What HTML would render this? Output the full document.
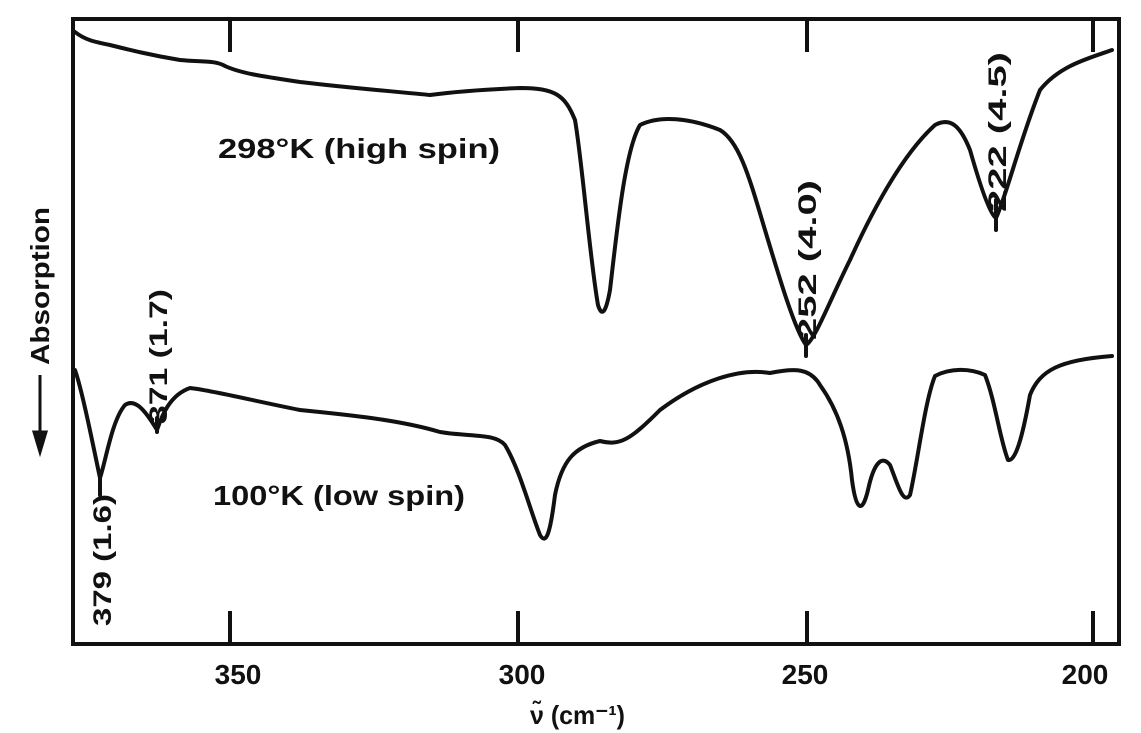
<!DOCTYPE html>
<html><head><style>
html,body{margin:0;padding:0;background:#fff;}
svg{display:block;}
text{font-family:"Liberation Sans",sans-serif;font-weight:bold;fill:#111;}
</style></head><body>
<svg width="1141" height="733" viewBox="0 0 1141 733">
<rect x="73" y="19" width="1046" height="625" fill="none" stroke="#111" stroke-width="4"/>
<g stroke="#111" stroke-width="4">
<line x1="230" y1="19" x2="230" y2="52"/><line x1="518" y1="19" x2="518" y2="52"/><line x1="807" y1="19" x2="807" y2="52"/><line x1="1093" y1="19" x2="1093" y2="52"/>
<line x1="230" y1="644" x2="230" y2="611"/><line x1="518" y1="644" x2="518" y2="611"/><line x1="807" y1="644" x2="807" y2="611"/><line x1="1093" y1="644" x2="1093" y2="611"/>
</g>
<g font-size="28" text-anchor="middle">
<text x="238" y="684">350</text><text x="522" y="684">300</text><text x="805" y="684">250</text><text x="1085" y="684">200</text>
</g>
<text x="530" y="724" font-size="26" textLength="95" lengthAdjust="spacingAndGlyphs">ν̃ (cm⁻¹)</text>
<g fill="none" stroke="#111" stroke-width="4" stroke-linejoin="round" stroke-linecap="round">
<path d="M75,32 C85,40 95,42 110,45 C130,50 150,55 180,60 C200,62 215,60 225,66 C240,73 260,76 300,82 C350,88 400,92 430,95 C445,93 470,90 520,88 C555,88 565,95 575,120 C582,160 590,260 598,305 C602,318 606,312 610,290 C617,230 625,150 640,125 C660,115 690,118 720,130 C740,142 750,180 765,230 C780,280 795,330 806,345 C815,340 830,300 850,260 C875,205 905,152 935,125 C950,117 960,125 970,150 C980,185 990,215 996,218 C1005,200 1020,140 1040,90 C1060,65 1090,58 1112,50"/>
<path d="M75,370 C82,390 92,440 100,478 C106,460 112,420 125,405 C135,398 145,410 157,430 C162,415 170,395 190,388 C210,390 250,400 300,410 C350,415 400,420 440,432 C470,437 495,433 505,445 C520,470 530,510 540,535 C546,545 550,535 555,495 C562,460 575,447 600,441 C620,446 630,440 660,410 C700,380 740,368 770,373 C795,368 810,368 820,385 C838,410 848,440 852,480 C856,510 862,515 868,490 C874,462 882,455 890,465 C898,485 903,505 910,495 C918,460 925,400 935,376 C950,368 970,368 985,375 C995,400 1000,440 1008,460 C1015,462 1022,440 1030,395 C1040,370 1060,360 1112,356"/>
<line x1="100" y1="478" x2="100" y2="495"/><line x1="157" y1="418" x2="157" y2="432"/>
<line x1="806" y1="335" x2="806" y2="356"/><line x1="996" y1="200" x2="996" y2="230"/>
</g>
<text x="218" y="158" font-size="28" textLength="282" lengthAdjust="spacingAndGlyphs">298°K (high spin)</text>
<text x="213" y="505" font-size="28" textLength="252" lengthAdjust="spacingAndGlyphs">100°K (low spin)</text>
<text font-size="25" textLength="132" lengthAdjust="spacingAndGlyphs" transform="translate(111,626) rotate(-90)">379 (1.6)</text>
<text font-size="25" textLength="135" lengthAdjust="spacingAndGlyphs" transform="translate(167,424) rotate(-90)">371 (1.7)</text>
<text font-size="25" textLength="160" lengthAdjust="spacingAndGlyphs" transform="translate(816,340) rotate(-90)">252 (4.0)</text>
<text font-size="25" textLength="160" lengthAdjust="spacingAndGlyphs" transform="translate(1006,212) rotate(-90)">222 (4.5)</text>
<text font-size="26" textLength="158" lengthAdjust="spacingAndGlyphs" transform="translate(49,365) rotate(-90)">Absorption</text>
<g stroke="#111" stroke-width="3" fill="#111">
<line x1="40" y1="375" x2="40" y2="445"/>
<path d="M34,432 L40,452 L46,432 Z"/>
</g>
</svg>
</body></html>
